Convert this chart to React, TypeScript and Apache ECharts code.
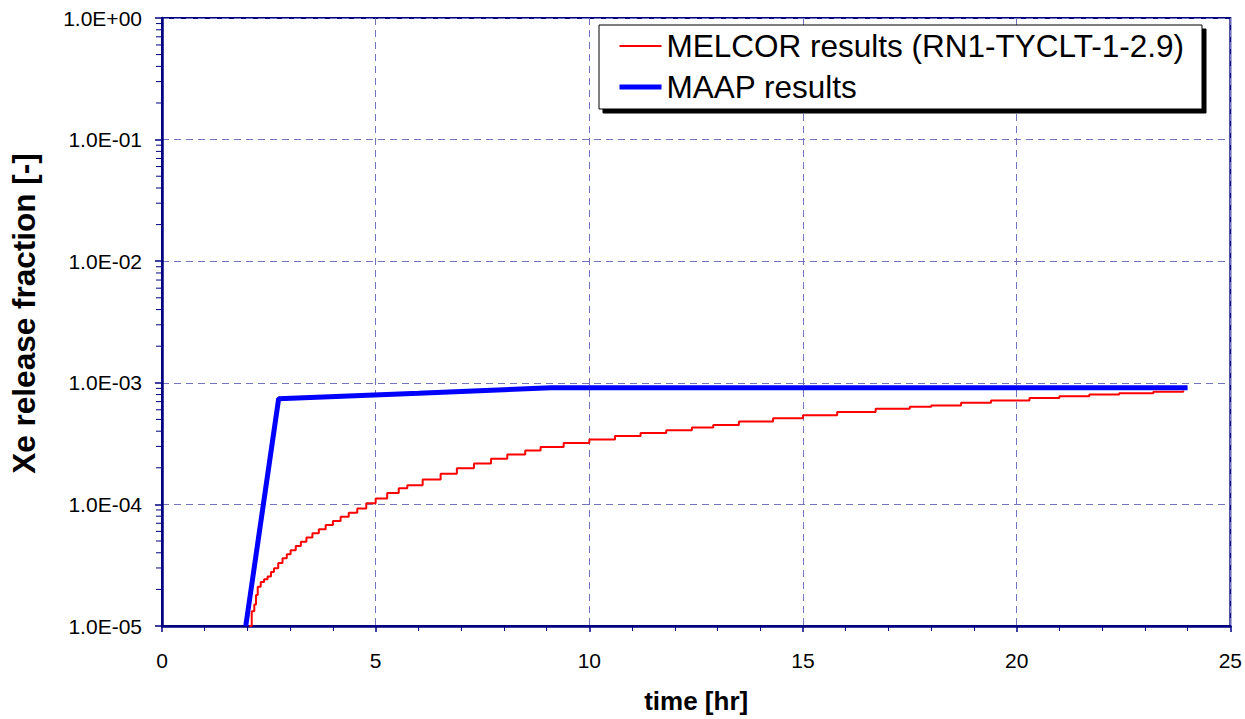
import React, { useEffect, useRef } from "react";
import * as echarts from "echarts";

const xTicks = [0, 5, 10, 15, 20, 25];
const yDecades = [1e-5, 1e-4, 1e-3, 1e-2, 1e-1, 1];
const minorMultipliers = [2, 3, 4, 5, 6, 7, 8, 9];

const melcorName = "MELCOR results (RN1-TYCLT-1-2.9)";
const maapName = "MAAP results";

const melcorTime = [
  2.04, 2.1, 2.16, 2.2, 2.24, 2.31, 2.39, 2.47, 2.55, 2.62, 2.72, 2.82, 2.92, 3.01, 3.13, 3.25,
  3.38, 3.52, 3.67, 3.83, 4.0, 4.18, 4.37, 4.57, 4.78, 5.0, 5.27, 5.54, 5.74, 6.1, 6.52, 6.9, 7.3,
  7.7, 8.08, 8.5, 8.86, 9.4, 10.0, 10.6, 11.2, 11.8, 12.4, 12.9, 13.5, 14.3, 15.0, 15.8, 16.7,
  17.5, 18.0, 18.7, 19.4, 20.3, 21.0, 21.7, 22.4, 23.2, 23.9,
];
const melcorValue = [
  1.0e-5, 1.32e-5, 1.5e-5, 1.8e-5, 2.1e-5, 2.3e-5, 2.42e-5, 2.55e-5, 2.78e-5, 2.99e-5, 3.3e-5,
  3.6e-5, 3.9e-5, 4.2e-5, 4.55e-5, 4.94e-5, 5.35e-5, 5.78e-5, 6.25e-5, 6.76e-5, 7.3e-5, 7.9e-5,
  8.55e-5, 9.27e-5, 1.02e-4, 1.12e-4, 1.24e-4, 1.36e-4, 1.44e-4, 1.6e-4, 1.79e-4, 1.98e-4,
  2.17e-4, 2.37e-4, 2.57e-4, 2.78e-4, 2.97e-4, 3.2e-4, 3.42e-4, 3.65e-4, 3.87e-4, 4.08e-4,
  4.28e-4, 4.5e-4, 4.8e-4, 5.1e-4, 5.4e-4, 5.75e-4, 6.12e-4, 6.35e-4, 6.52e-4, 6.85e-4, 7.16e-4,
  7.5e-4, 7.75e-4, 8.0e-4, 8.2e-4, 8.45e-4, 8.65e-4,
];

const maapTime = [1.96, 2.73, 6.0, 9.1, 24.0];
const maapValue = [1.0e-5, 7.4e-4, 8.2e-4, 9.1e-4, 9.1e-4];

const NAVY = "#000080";
const GRID = "#7474bc";
const FONT = "Arial, 'Liberation Sans', sans-serif";

function fmtExp(v: number): string {
  const e = Math.round(Math.log10(v));
  const m = v / Math.pow(10, e);
  return m.toFixed(1) + "E" + (e < 0 ? "-" : "+") + String(Math.abs(e)).padStart(2, "0");
}

export default function App() {
  const ref = useRef<HTMLDivElement>(null);
  useEffect(() => {
    if (!ref.current) return;
    const chart = echarts.init(ref.current, undefined, { renderer: "svg" });
    const minorVals: number[][] = [];
    yDecades.slice(0, -1).forEach((d) => {
      minorMultipliers.forEach((m) => minorVals.push([0, d * m]));
    });
    chart.setOption({
      animation: false,
      backgroundColor: "#fff",
      grid: {
        left: 161,
        right: 14,
        top: 18,
        bottom: 91,
        show: true,
        borderColor: NAVY,
        borderWidth: 2,
        backgroundColor: "transparent",
      },
      legend: {
        orient: "vertical",
        left: 599,
        top: 25,
        itemWidth: 42,
        itemHeight: 12,
        itemGap: 9,
        padding: [5, 18, 6, 18],
        backgroundColor: "#fff",
        borderColor: "#000",
        borderWidth: 1,
        borderRadius: 0,
        shadowColor: "#000",
        shadowBlur: 0,
        shadowOffsetX: 4,
        shadowOffsetY: 4,
        itemStyle: { opacity: 0 },
        textStyle: { fontSize: 31.5, fontFamily: FONT, color: "#000" },
        data: [
          { name: melcorName, lineStyle: { width: 2, color: "#ff0000" } },
          { name: maapName, lineStyle: { width: 5, color: "#0000ff" } },
        ],
      },
      xAxis: {
        type: "value",
        min: xTicks[0],
        max: xTicks[xTicks.length - 1],
        interval: 5,
        name: "time [hr]",
        nameLocation: "middle",
        nameGap: 62,
        nameTextStyle: { fontSize: 26, fontWeight: "bold", fontFamily: FONT, color: "#000" },
        axisLine: { lineStyle: { color: NAVY, width: 2.5 } },
        axisTick: { length: 6, lineStyle: { color: NAVY, width: 1.5 } },
        minorTick: { show: true, splitNumber: 5, length: 5, lineStyle: { color: NAVY, width: 1 } },
        axisLabel: { fontSize: 21, fontFamily: FONT, color: "#000", margin: 24 },
        splitLine: { show: true, lineStyle: { color: GRID, type: [7, 5], width: 1 } },
      },
      yAxis: {
        type: "log",
        logBase: 10,
        min: yDecades[0],
        max: yDecades[yDecades.length - 1],
        name: "Xe release fraction [-]",
        nameLocation: "middle",
        nameGap: 122,
        nameTextStyle: {
          fontSize: 31.5,
          fontWeight: "bold",
          fontFamily: FONT,
          color: "#000",
          padding: [0, 0, 0, 17],
        },
        axisLine: { show: true, lineStyle: { color: NAVY, width: 2.5 } },
        axisTick: { show: true, length: 7, lineStyle: { color: NAVY, width: 1.5 } },
        axisLabel: {
          fontSize: 21,
          fontFamily: FONT,
          color: "#000",
          margin: 20,
          formatter: (v: number) => fmtExp(v),
        },
        splitLine: { show: true, lineStyle: { color: GRID, type: [7, 5], width: 1 } },
      },
      series: [
        {
          name: melcorName,
          type: "line",
          step: "end",
          symbol: "none",
          lineStyle: { color: "#ff0000", width: 2 },
          itemStyle: { color: "#ff0000" },
          data: melcorTime.map((t, i) => [t, melcorValue[i]]),
          z: 3,
        },
        {
          name: maapName,
          type: "line",
          symbol: "none",
          lineStyle: { color: "#0000ff", width: 5 },
          itemStyle: { color: "#0000ff" },
          data: maapTime.map((t, i) => [t, maapValue[i]]),
          z: 4,
        },
        {
          name: "minorTicks",
          type: "custom",
          silent: true,
          clip: false,
          z: 5,
          data: minorVals,
          renderItem: (_params: any, api: any) => {
            const p = api.coord([0, api.value(1)]);
            return {
              type: "line",
              shape: { x1: p[0] - 6, y1: p[1], x2: p[0], y2: p[1] },
              style: { stroke: NAVY, lineWidth: 1 },
            };
          },
        },
      ],
    });
    return () => chart.dispose();
  }, []);
  return (
    <div
      ref={ref}
      style={{ position: "absolute", left: 0, top: 0, width: 1245, height: 719 }}
    />
  );
}
